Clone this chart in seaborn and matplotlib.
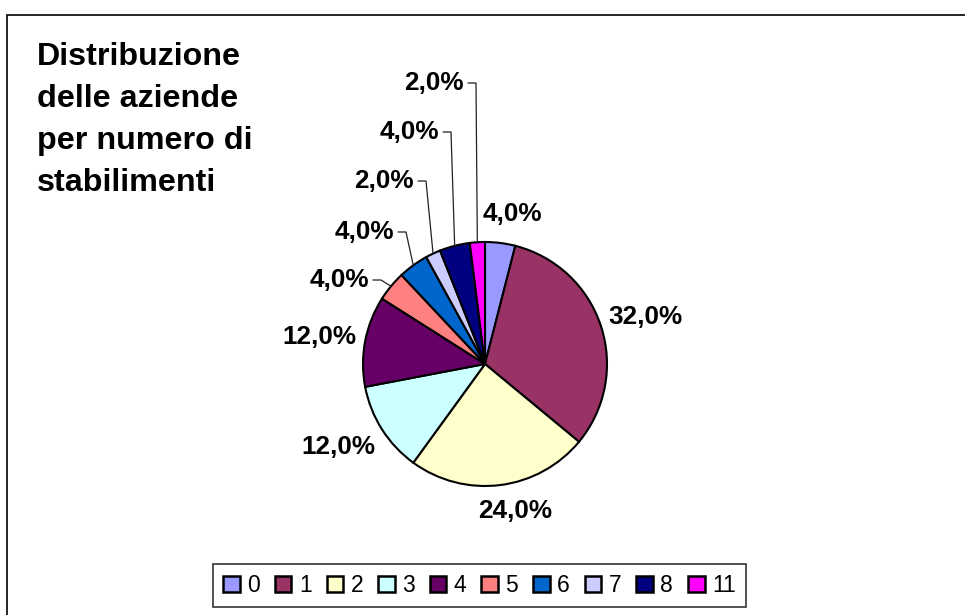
import numpy as np
import matplotlib
matplotlib.use("Agg")
import matplotlib.pyplot as plt
from matplotlib.patches import Patch, Rectangle
import seaborn as sns

# Number of plants per company and share of companies (%)
categories = ["0", "1", "2", "3", "4", "5", "6", "7", "8", "11"]
shares = [4.0, 32.0, 24.0, 12.0, 12.0, 4.0, 4.0, 2.0, 4.0, 2.0]
colors = ["#9999FF", "#993366", "#FFFFCC", "#CCFFFF", "#660066",
          "#FF8080", "#0066CC", "#CCCCFF", "#000080", "#FF00FF"]
title_lines = ["Distribuzione", "delle aziende", "per numero di", "stabilimenti"]

sns.set_theme(style="white")
plt.rcParams["font.family"] = ["Liberation Sans", "DejaVu Sans"]
plt.rcParams["text.color"] = "black"

W, H = 965, 615
fig = plt.figure(figsize=(W / 100, H / 100), dpi=100)
ax = fig.add_axes([0, 0, 1, 1])


def py(y):
    """Convert a top-down pixel row into the bottom-up data coordinate."""
    return H - y


# Outer chart frame (only its top and left edges fall inside the canvas)
ax.add_patch(Rectangle((7, py(15) - 700), 1100, 700, fill=False,
                       edgecolor="black", linewidth=1.2, zorder=0))

cx, cy, r = 485, py(364), 122
wedges, _ = ax.pie(shares, colors=colors, startangle=90, counterclock=False,
                   center=(cx, cy), radius=r,
                   wedgeprops=dict(edgecolor="black", linewidth=1.5))

labels = [f"{v:.1f}%".replace(".", ",") for v in shares]

# Label layout: (x, y, horizontal alignment, leader line?)
layout = [
    (512, 214, "center", False),
    (645, 317, "center", False),
    (515, 511, "center", False),
    (338, 447, "center", False),
    (319, 337, "center", False),
    (369, 280, "right", True),
    (394, 232, "right", True),
    (414, 181, "right", True),
    (439, 132, "right", True),
    (464, 83, "right", True),
]

for w, text, (lx, ly, ha, leader) in zip(wedges, labels, layout):
    ax.text(lx, py(ly), text, ha=ha, va="center", fontsize=18.8,
            fontweight="bold", color="black")
    if leader:
        mid = np.deg2rad((w.theta1 + w.theta2) / 2)
        ex, ey = cx + r * np.cos(mid), cy + r * np.sin(mid)
        ax.plot([lx + 4, lx + 12, ex], [py(ly), py(ly), ey],
                color="#222222", linewidth=0.9, zorder=5)

# Title block
for i, line in enumerate(title_lines):
    ax.text(37, py(65 + 42 * i), line, ha="left", va="baseline",
            fontsize=23.2, fontweight="bold", color="black")

handles = [Patch(facecolor=c, edgecolor="black", linewidth=1.8, label=lab)
           for c, lab in zip(colors, categories)]
leg = ax.legend(handles=handles, loc="center",
                bbox_to_anchor=(479.5 / W, 1 - 585.5 / H),
                bbox_transform=fig.transFigure, ncol=len(categories),
                fontsize=16.5, frameon=True, fancybox=False, framealpha=1,
                handlelength=0.72, handleheight=0.72, handletextpad=0.33,
                columnspacing=0.65, borderpad=0.42, labelcolor="black")
leg.get_frame().set_edgecolor("#333333")
leg.get_frame().set_linewidth(1.2)

ax.set_xlim(0, W)
ax.set_ylim(0, H)
ax.set_aspect("auto")
ax.axis("off")

fig.savefig("out.png", dpi=100, facecolor="white")
